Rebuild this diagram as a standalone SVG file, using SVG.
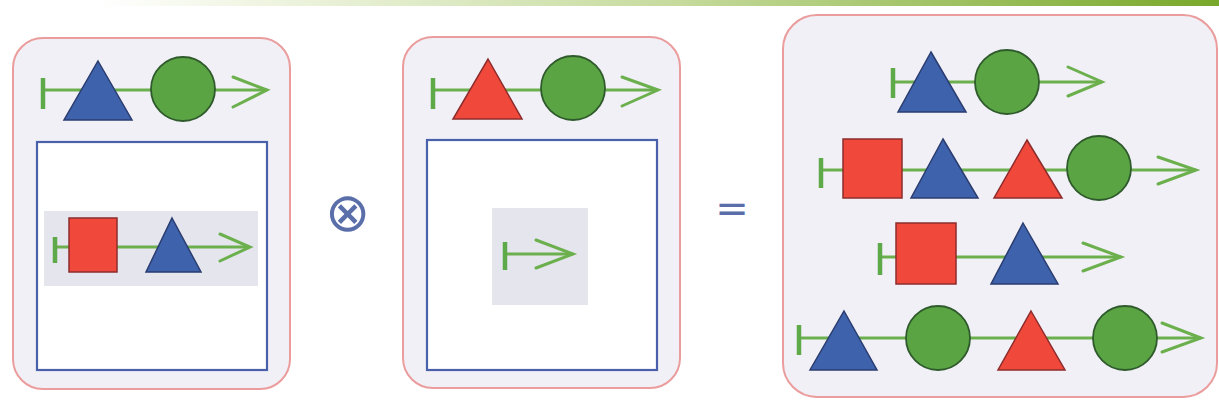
<svg xmlns="http://www.w3.org/2000/svg" width="1219" height="409" viewBox="0 0 1219 409">
<defs>
<linearGradient id="bar" x1="0" y1="0" x2="1" y2="0">
<stop offset="0" stop-color="#ffffff"/>
<stop offset="0.1" stop-color="#f4f8ea"/>
<stop offset="0.5" stop-color="#c8dca0"/>
<stop offset="1" stop-color="#78a82a"/>
</linearGradient>
<style>
.panel{fill:#f2f0f7;stroke:#eb9c9c;stroke-width:2}
.box{fill:#ffffff;stroke:#4a60aa;stroke-width:2.2}
.band{fill:#e5e5ee}
.ln{stroke:#6cb04e;stroke-width:3;fill:none}
.tee{stroke:#5eaa48;stroke-width:4.5}
.chev{stroke:#6cb04e;stroke-width:3;fill:none;stroke-linecap:round;stroke-linejoin:miter}
.bt{fill:#3f62ac;stroke:#2a3d70;stroke-width:1.5}
.rt{fill:#f0483a;stroke:#8c2c2c;stroke-width:1.5}
.rs{fill:#f0483a;stroke:#8c2c2c;stroke-width:1.5}
.gc{fill:#5aa444;stroke:#2f5b2c;stroke-width:1.8}
.op{fill:#5a6eaa;font-family:'DejaVu Sans',sans-serif}
</style>
</defs>
<rect x="0" y="0" width="1219" height="409" fill="#ffffff"/>
<rect x="100" y="0" width="1119" height="6" fill="url(#bar)"/>

<g id="panel1">
<rect class="panel" x="13" y="38" width="277" height="351" rx="30"/>
<line class="ln" x1="43" y1="90" x2="267" y2="90"/>
<line class="tee" x1="43" y1="78" x2="43" y2="109"/>
<polyline class="chev" points="233,77 267,90 233,107"/>
<polygon class="bt" points="98,61 132,120 64,120"/>
<circle class="gc" cx="183" cy="89" r="32"/>
<rect class="box" x="37" y="142" width="230" height="228"/>
<rect class="band" x="44" y="211" width="214" height="75"/>
<line class="ln" x1="55" y1="247" x2="250" y2="247"/>
<line class="tee" x1="55" y1="237" x2="55" y2="263"/>
<polyline class="chev" points="220,234 250,247 220,261"/>
<rect class="rs" x="69" y="218" width="48" height="54"/>
<polygon class="bt" points="172,218 201,272 146,272"/>
</g>

<g id="panel2">
<rect class="panel" x="403" y="37" width="277" height="351" rx="30"/>
<line class="ln" x1="433" y1="90" x2="658" y2="90"/>
<line class="tee" x1="433" y1="78" x2="433" y2="109"/>
<polyline class="chev" points="622,77 658,90 622,106"/>
<polygon class="rt" points="488,59 522,119 453,119"/>
<circle class="gc" cx="573" cy="88" r="32"/>
<rect class="box" x="427" y="140" width="230" height="230"/>
<rect class="band" x="492" y="208" width="96" height="97"/>
<line class="ln" x1="505" y1="254" x2="573" y2="254"/>
<line class="tee" x1="505" y1="242" x2="505" y2="270"/>
<polyline class="chev" points="536,240 573,254 536,268"/>
</g>

<g id="op-times">
<text class="op" x="347" y="231" font-size="54" font-weight="200" text-anchor="middle">⊗</text>
</g>
<g id="op-equals">
<text class="op" x="732" y="222" font-size="40" text-anchor="middle">=</text>
</g>

<g id="panel3">
<rect class="panel" x="783" y="15" width="434" height="382" rx="34"/>
<line class="ln" x1="893" y1="82" x2="1102" y2="82"/>
<line class="tee" x1="893" y1="68" x2="893" y2="98"/>
<polyline class="chev" points="1068,67 1102,82 1068,96"/>
<polygon class="bt" points="931,52 966,112 898,112"/>
<circle class="gc" cx="1007" cy="82" r="32"/>

<line class="ln" x1="821" y1="170" x2="1196" y2="170"/>
<line class="tee" x1="821" y1="158" x2="821" y2="188"/>
<polyline class="chev" points="1158,157 1196,170 1158,184"/>
<rect class="rs" x="843" y="139" width="59" height="59"/>
<polygon class="bt" points="943,139 978,198 911,198"/>
<polygon class="rt" points="1027,140 1062,198 994,198"/>
<circle class="gc" cx="1099" cy="168" r="32"/>

<line class="ln" x1="880" y1="257" x2="1121" y2="257"/>
<line class="tee" x1="880" y1="243" x2="880" y2="275"/>
<polyline class="chev" points="1083,243 1121,257 1083,271"/>
<rect class="rs" x="896" y="223" width="60" height="61"/>
<polygon class="bt" points="1023,223 1058,284 991,284"/>

<line class="ln" x1="799" y1="338" x2="1201" y2="338"/>
<line class="tee" x1="799" y1="325" x2="799" y2="355"/>
<polyline class="chev" points="1162,323 1201,338 1162,352"/>
<polygon class="bt" points="844,311 877,370 810,370"/>
<circle class="gc" cx="938" cy="338" r="32"/>
<polygon class="rt" points="1031,311 1065,370 998,370"/>
<circle class="gc" cx="1125" cy="338" r="32"/>
</g>
</svg>
